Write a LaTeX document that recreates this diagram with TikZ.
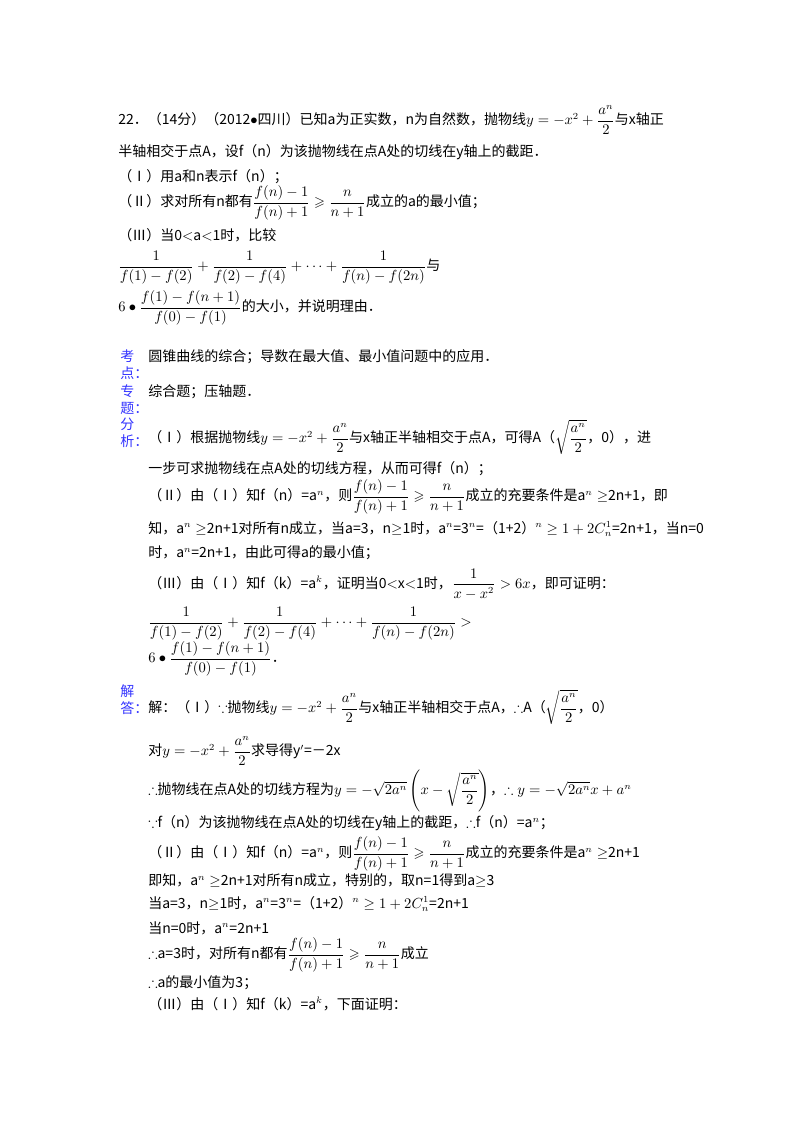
\documentclass[tikz,border=0pt]{standalone}
\usepackage{amsmath,amssymb}
\usepackage{fontspec}
\setmainfont{Noto Sans CJK SC}
\begin{document}
\begin{tikzpicture}[x=0.75pt,y=-0.75pt,
  ln/.style={anchor=west,inner sep=0pt,font=\fontsize{10.5}{12}\selectfont},
  lab/.style={anchor=north west,inner sep=0pt,align=left,text=blue!80!white,font=\fontsize{10.5}{12.8}\selectfont}]
\useasboundingbox (0,0) rectangle (800,1132);
\node[ln] (p1) at (118,120) {22．（14分）（2012$\bullet$四川）已知a为正实数，n为自然数，抛物线$y=-x^2+\dfrac{a^n}{2}$与x轴正};
\node[ln] (p2) at (118,152) {半轴相交于点A，设f（n）为该抛物线在点A处的切线在y轴上的截距．};
\node[ln] (p3) at (118,177) {（Ⅰ）用a和n表示f（n）；};
\node[ln] (p4) at (118,203) {（Ⅱ）求对所有n都有$\dfrac{f(n)-1}{f(n)+1}\geqslant\dfrac{n}{n+1}$成立的a的最小值；};
\node[ln] (p5) at (118,235) {（Ⅲ）当0$<$a$<$1时，比较};
\node[ln] (p6) at (118,268) {$\dfrac{1}{f(1)-f(2)}+\dfrac{1}{f(2)-f(4)}+\cdots+\dfrac{1}{f(n)-f(2n)}$与};
\node[ln] (p7) at (118,308) {$6\bullet\dfrac{f(1)-f(n+1)}{f(0)-f(1)}$的大小，并说明理由．};

\node[lab] (l1) at (120,349) {考\\点：};
\node[ln] (k1) at (148,357) {圆锥曲线的综合；导数在最大值、最小值问题中的应用．};
\node[lab] (l2) at (120,384) {专\\题：};
\node[ln] (k2) at (148,392) {综合题；压轴题．};
\node[lab] (l3) at (120,418) {分\\析：};
\node[ln] (a1) at (148,437) {（Ⅰ）根据抛物线$y=-x^2+\dfrac{a^n}{2}$与x轴正半轴相交于点A，可得A（$\sqrt{\dfrac{a^n}{2}}$，0），进};
\node[ln] (a2) at (148,469) {一步可求抛物线在点A处的切线方程，从而可得f（n）；};
\node[ln] (a3) at (148,497) {（Ⅱ）由（Ⅰ）知f（n）=a$^n$，则$\dfrac{f(n)-1}{f(n)+1}\geqslant\dfrac{n}{n+1}$成立的充要条件是a$^n\geq$2n+1，即};
\node[ln] (a4) at (148,529) {知，a$^n\geq$2n+1对所有n成立，当a=3，n$\geq$1时，a$^n$=3$^n$=（1+2）$^n\geq1+2C_n^1$=2n+1，当n=0};
\node[ln] (a5) at (148,553) {时，a$^n$=2n+1，由此可得a的最小值；};
\node[ln] (a6) at (148,584) {（Ⅲ）由（Ⅰ）知f（k）=a$^k$，证明当0$<$x$<$1时，$\dfrac{1}{x-x^2}>6x$，即可证明：};
\node[ln] (a7) at (148,624) {$\dfrac{1}{f(1)-f(2)}+\dfrac{1}{f(2)-f(4)}+\cdots+\dfrac{1}{f(n)-f(2n)}>$};
\node[ln] (a8) at (148,659) {$6\bullet\dfrac{f(1)-f(n+1)}{f(0)-f(1)}$．};

\node[lab] (l4) at (120,684) {解\\答：};
\node[ln] (s1) at (148,707) {解：（Ⅰ）$\because$抛物线$y=-x^2+\dfrac{a^n}{2}$与x轴正半轴相交于点A，$\therefore$A（$\sqrt{\dfrac{a^n}{2}}$，0）};
\node[ln] (s2) at (148,751) {对$y=-x^2+\dfrac{a^n}{2}$求导得y$'$=－2x};
\node[ln] (s3) at (148,791) {$\therefore$抛物线在点A处的切线方程为$y=-\sqrt{2a^n}\left(x-\sqrt{\dfrac{a^n}{2}}\right)$，$\therefore y=-\sqrt{2a^n}x+a^n$};
\node[ln] (s4) at (148,823) {$\because$f（n）为该抛物线在点A处的切线在y轴上的截距，$\therefore$f（n）=a$^n$；};
\node[ln] (s5) at (148,854) {（Ⅱ）由（Ⅰ）知f（n）=a$^n$，则$\dfrac{f(n)-1}{f(n)+1}\geqslant\dfrac{n}{n+1}$成立的充要条件是a$^n\geq$2n+1};
\node[ln] (s6) at (148,881) {即知，a$^n\geq$2n+1对所有n成立，特别的，取n=1得到a$\geq$3};
\node[ln] (s7) at (148,904) {当a=3，n$\geq$1时，a$^n$=3$^n$=（1+2）$^n\geq1+2C_n^1$=2n+1};
\node[ln] (s8) at (148,928) {当n=0时，a$^n$=2n+1};
\node[ln] (s9) at (148,955) {$\therefore$a=3时，对所有n都有$\dfrac{f(n)-1}{f(n)+1}\geqslant\dfrac{n}{n+1}$成立};
\node[ln] (s10) at (148,983) {$\therefore$a的最小值为3；};
\node[ln] (s11) at (148,1004) {（Ⅲ）由（Ⅰ）知f（k）=a$^k$，下面证明：};
\end{tikzpicture}
\end{document}
